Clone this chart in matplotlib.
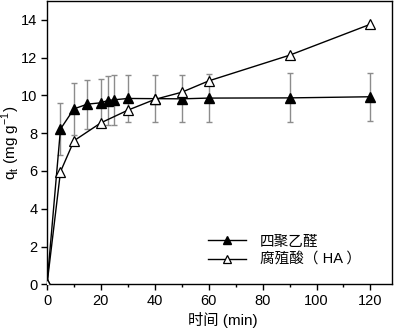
import matplotlib
matplotlib.use("Agg")
import matplotlib.pyplot as plt
from matplotlib.ticker import MultipleLocator

plt.rcParams['font.family'] = ['Liberation Sans', 'Noto Sans CJK SC', 'DejaVu Sans']
plt.rcParams['font.size'] = 10

# data
t_pa = [0, 5, 10, 15, 20, 22.5, 25, 30, 40, 50, 60, 90, 120]
q_pa = [0, 8.22, 9.29, 9.54, 9.61, 9.73, 9.77, 9.84, 9.83, 9.82, 9.86, 9.87, 9.93]
err_pa = [0, 1.38, 1.36, 1.3, 1.28, 1.3, 1.31, 1.24, 1.26, 1.25, 1.28, 1.3, 1.27]

t_ha = [0, 5, 10, 20, 30, 40, 50, 60, 90, 120]
q_ha = [0, 5.96, 7.6, 8.55, 9.22, 9.79, 10.17, 10.77, 12.13, 13.77]

label_pa = "四聚乙醛"
label_ha = "腐殖酸（ HA ）"

fig = plt.figure(figsize=(4.0, 3.31), dpi=100)
ax = fig.add_axes([0.1175, 0.141, 0.8625, 0.856])

ax.errorbar(t_pa, q_pa, yerr=err_pa, fmt='none', ecolor='#8c8c8c',
            elinewidth=1.0, capsize=2.5, capthick=1.0, zorder=1)
ax.plot(t_pa, q_pa, '-^', color='black', mfc='black', mec='black',
        ms=6.5, lw=1.0, label=label_pa, zorder=2)
ax.plot(t_ha, q_ha, '-^', color='black', mfc='white', mec='black',
        ms=6.5, mew=0.9, lw=1.0, label=label_ha, zorder=3)

ax.set_xlim(0, 128)
ax.set_ylim(0, 15)
ax.xaxis.set_major_locator(MultipleLocator(20))
ax.xaxis.set_minor_locator(MultipleLocator(10))
ax.yaxis.set_major_locator(MultipleLocator(2))
ax.tick_params(which='major', direction='out', length=4, width=1, pad=3)
ax.tick_params(which='minor', direction='out', length=2.5, width=1)
ax.tick_params(axis='both', labelsize=10.5)
for s in ax.spines.values():
    s.set_linewidth(1.0)

ax.set_xlabel("时间 (min)", fontsize=11)
ax.xaxis.set_label_coords(0.51, -0.098)
ax.set_ylabel("q$_\\mathregular{t}$ (mg g$^{\\mathregular{-1}}$)", fontsize=11)
ax.yaxis.set_label_coords(-0.072, 0.5)

ax.legend(loc='lower left', bbox_to_anchor=(0.43, 0.015), frameon=False,
          fontsize=10.5, handlelength=2.6, handletextpad=0.9,
          markerscale=0.8, labelspacing=0.3)

fig.savefig("out.png", dpi=100)
